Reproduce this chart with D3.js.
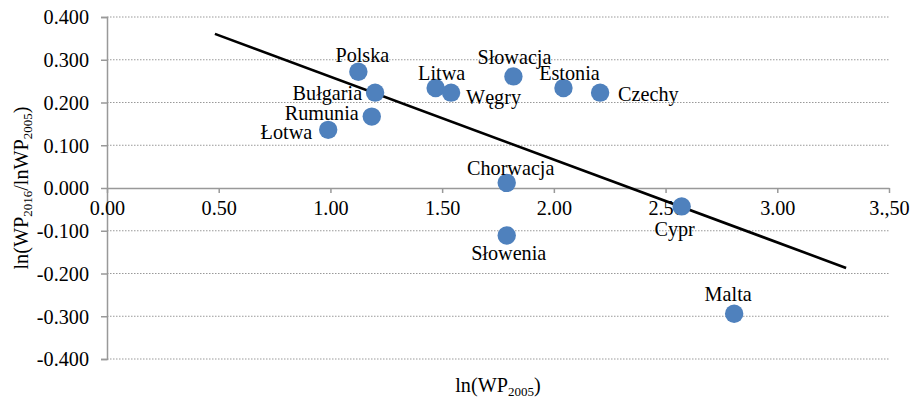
<!DOCTYPE html>
<html>
<head>
<meta charset="utf-8">
<script src="https://cdn.jsdelivr.net/npm/d3@7"></script>
<style>
  html, body { margin: 0; padding: 0; background: #fff; }
  svg text { font-family: "Liberation Serif", "Times New Roman", serif; fill: #000; }
</style>
</head>
<body>
<svg id="chart" width="916" height="403"></svg>
<script>
// ---- data ----
const countries = ["Polska","Bułgaria","Rumunia","Łotwa","Litwa","Węgry","Słowacja","Estonia","Czechy","Chorwacja","Słowenia","Cypr","Malta"];
const lnWP2005  = [1.125, 1.20, 1.185, 0.99, 1.471, 1.54, 1.819, 2.043, 2.207, 1.789, 1.789, 2.572, 2.807];
const ratio     = [0.272, 0.223, 0.167, 0.136, 0.234, 0.223, 0.261, 0.234, 0.223, 0.012, -0.111, -0.043, -0.294];
const trendX = [0.483, 3.308];
const trendY = [0.3605, -0.187];
const xTicks = [0, 0.5, 1, 1.5, 2, 2.5, 3, 3.5];
const xTickLabels = ["0.00","0.50","1.00","1.50","2.00","2.50","3.00","3.,50"];
const yTicks = [0.4, 0.3, 0.2, 0.1, 0, -0.1, -0.2, -0.3, -0.4];
const yTickLabels = ["0.400","0.300","0.200","0.100","0.000","-0.100","-0.200","-0.300","-0.400"];

// ---- label placement (layout) ----
const labelPlace = {
  "Polska":   {dx: 4,   dy: -10, a: "middle"},
  "Bułgaria": {dx: -13, dy: 7,   a: "end"},
  "Rumunia":  {dx: -13, dy: 3,   a: "end"},
  "Łotwa":    {dx: -16, dy: 9,   a: "end"},
  "Litwa":    {dx: 6,   dy: -8,  a: "middle"},
  "Węgry":    {dx: 15,  dy: 11,  a: "start"},
  "Słowacja": {dx: 1,   dy: -12, a: "middle"},
  "Estonia":  {dx: 6,   dy: -8,  a: "middle"},
  "Czechy":   {dx: 18,  dy: 8,   a: "start"},
  "Chorwacja":{dx: 4,   dy: -8,  a: "middle"},
  "Słowenia": {dx: 2,   dy: 25,  a: "middle"},
  "Cypr":     {dx: -7,  dy: 30,  a: "middle"},
  "Malta":    {dx: -6,  dy: -13, a: "middle"}
};

const svg = d3.select("#chart");
const FS = 20.2;
const FONT = "'Liberation Serif', 'Times New Roman', serif";
const mLeft = 107, mRight = 889, mTop = 17, mBottom = 359;

const x = d3.scaleLinear().domain([0, 3.5]).range([mLeft, mRight]);
const y = d3.scaleLinear().domain([-0.4, 0.4]).range([mBottom, mTop]);

// gridlines
svg.append("g").selectAll("line")
  .data(yTicks.filter(v => v !== 0))
  .join("line")
  .attr("x1", mLeft).attr("x2", mRight)
  .attr("y1", d => y(d)).attr("y2", d => y(d))
  .attr("stroke", "#999").attr("stroke-width", 1)
  .attr("stroke-dasharray", "1.5,1.5");

// y axis
const yAxis = d3.axisLeft(y).tickValues(yTicks)
  .tickFormat((d, i) => yTickLabels[i]).tickSize(6).tickPadding(12);
const gy = svg.append("g").attr("transform", `translate(${mLeft},0)`).call(yAxis);
gy.attr("font-family", null);
gy.select(".domain").attr("stroke", "#999").attr("stroke-width", 1.5);
gy.selectAll(".tick line").attr("stroke", "#999").attr("stroke-width", 1.5);
gy.selectAll(".tick text").attr("font-size", FS).style("font-family", FONT).attr("dy", "0.34em");

// x axis at y=0
const xAxis = d3.axisBottom(x).tickValues(xTicks)
  .tickFormat((d, i) => xTickLabels[i]).tickSize(5).tickPadding(8).tickSizeOuter(0);
const gx = svg.append("g").attr("transform", `translate(0,${y(0)})`).call(xAxis);
gx.attr("font-family", null);
gx.select(".domain").attr("stroke", "#999").attr("stroke-width", 1.5);
gx.selectAll(".tick line").attr("stroke", "#999").attr("stroke-width", 1.5);
gx.selectAll(".tick text").attr("font-size", FS).style("font-family", FONT);

// trend line
svg.append("line")
  .attr("x1", x(trendX[0])).attr("y1", y(trendY[0]))
  .attr("x2", x(trendX[1])).attr("y2", y(trendY[1]))
  .attr("stroke", "#000").attr("stroke-width", 2.6);

// points
const pts = countries.map((c, i) => ({c, x: lnWP2005[i], y: ratio[i]}));
svg.append("g").selectAll("circle")
  .data(pts).join("circle")
  .attr("cx", d => x(d.x)).attr("cy", d => y(d.y)).attr("r", 9.2)
  .attr("fill", "#4F81BD");

// labels
svg.append("g").selectAll("text")
  .data(pts).join("text")
  .attr("x", d => x(d.x) + labelPlace[d.c].dx)
  .attr("y", d => y(d.y) + labelPlace[d.c].dy)
  .attr("text-anchor", d => labelPlace[d.c].a)
  .attr("font-size", FS)
  .style("font-family", FONT)
  .text(d => d.c);

// x axis title
const xt = svg.append("text").attr("x", 498).attr("y", 392)
  .attr("text-anchor", "middle").attr("font-size", FS).style("font-family", FONT);
xt.append("tspan").text("ln(WP");
xt.append("tspan").attr("font-size", 13).attr("dy", 4).text("2005");
xt.append("tspan").attr("dy", -4).text(")");

// y axis title
const yt = svg.append("text")
  .attr("transform", "translate(28,188) rotate(-90)")
  .attr("text-anchor", "middle").attr("font-size", FS).style("font-family", FONT);
yt.append("tspan").text("ln(WP");
yt.append("tspan").attr("font-size", 13).attr("dy", 4).text("2016");
yt.append("tspan").attr("dy", -4).text("/lnWP");
yt.append("tspan").attr("font-size", 13).attr("dy", 4).text("2005");
yt.append("tspan").attr("dy", -4).text(")");
</script>
</body>
</html>
